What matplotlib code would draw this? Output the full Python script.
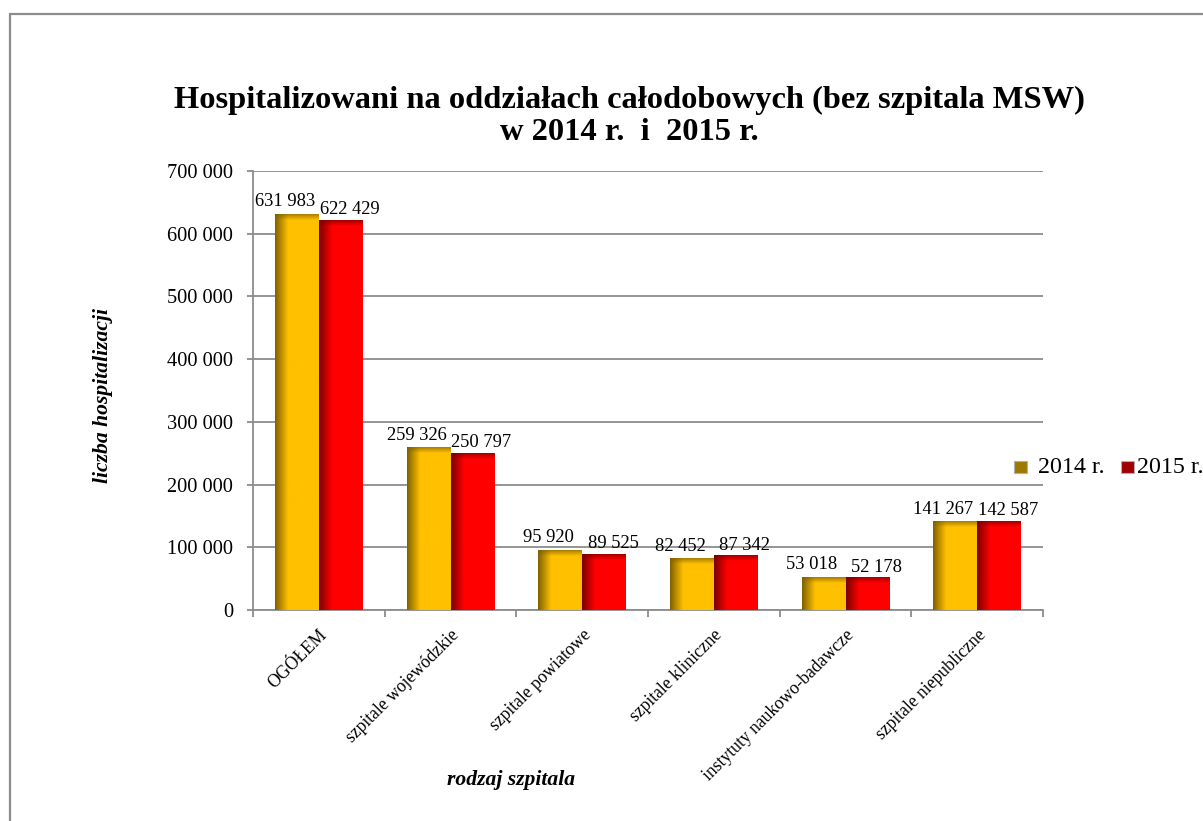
import matplotlib
matplotlib.use("Agg")
import matplotlib.pyplot as plt
import numpy as np
from matplotlib.patches import Rectangle
from matplotlib.colors import LinearSegmentedColormap, to_rgb

categories = ["OGÓŁEM", "szpitale wojewódzkie", "szpitale powiatowe", "szpitale kliniczne",
              "instytuty naukowo-badawcze", "szpitale niepubliczne"]
series_names = ["2014 r.", "2015 r."]
values_2014 = [631983, 259326, 95920, 82452, 53018, 141267]
values_2015 = [622429, 250797, 89525, 87342, 52178, 142587]
yticks = [0, 100000, 200000, 300000, 400000, 500000, 600000, 700000]

def fmt(v):
    return f"{v:,}".replace(",", " ")

plt.rcParams['font.family'] = ['Liberation Serif', 'DejaVu Serif']

W, H = 1203, 821
fig = plt.figure(figsize=(W / 100, H / 100), dpi=100)
fig.patch.set_facecolor('white')

# outer frame (extends beyond right/bottom)
fig.add_artist(Rectangle((10 / W, -0.2), 1.5, 1 - 14 / H + 0.2, transform=fig.transFigure,
                         fill=False, edgecolor='#8c8c8c', lw=1.6))

ax = fig.add_axes([253 / W, 1 - 610 / H, (1043 - 253) / W, (610 - 171) / H])

cols = [("#FFC000", "#7f6000"), ("#FF0000", "#7a0000")]
bw = 1 / 3
x = np.arange(len(categories)) + 0.5
px = 700000 / 439.0  # data units per pixel

def gradient_bar(ax, xl, h, main, dark):
    bar = ax.bar(xl, h, width=bw, align='edge', color=main, edgecolor='none', zorder=3)[0]
    cmap = LinearSegmentedColormap.from_list("g", [(0, dark), (0.3, main), (1, main)])
    grad = np.linspace(0, 1, 256).reshape(1, -1)
    im = ax.imshow(grad, cmap=cmap, extent=[xl, xl + bw, 0, h], aspect='auto', zorder=3.5,
                   interpolation='bilinear')
    im.set_clip_path(bar)
    # darker top strip
    d = 6 * px
    r, g, b = to_rgb(dark)
    top = np.zeros((32, 1, 4))
    top[..., 0], top[..., 1], top[..., 2] = r, g, b
    top[:, 0, 3] = np.linspace(0.7, 0.0, 32)
    im2 = ax.imshow(top, extent=[xl, xl + bw, h - d, h], aspect='auto', zorder=3.6,
                    interpolation='bilinear', origin='upper')
    im2.set_clip_path(bar)
    return bar

for i in range(len(categories)):
    gradient_bar(ax, x[i] - bw, values_2014[i], *cols[0])
    gradient_bar(ax, x[i], values_2015[i], *cols[1])
    ax.annotate(fmt(values_2014[i]), (x[i] - bw / 2, values_2014[i]), xytext=(-12, 12),
                textcoords='offset pixels', ha='center', va='center', fontsize=13.3, zorder=5)
    ax.annotate(fmt(values_2015[i]), (x[i] + bw / 2, values_2015[i]), xytext=(9, 10),
                textcoords='offset pixels', ha='center', va='center', fontsize=13.3, zorder=5)

ax.set_xlim(0, len(categories))
ax.set_ylim(0, 700000)
ax.set_yticks(yticks)
ax.set_yticklabels([fmt(v) for v in yticks], fontsize=14.7)
ax.yaxis.grid(True, color='#8c8c8c', lw=1.3, zorder=0)
ax.set_axisbelow(True)
ax.set_xticks(np.arange(len(categories) + 1))
ax.set_xticklabels([])
ax.set_xticks(x, minor=True)
ax.set_xticklabels(categories, minor=True, rotation=45, ha='right', va='top', fontsize=12.7,
                   rotation_mode='anchor')
ax.tick_params(axis='x', which='minor', length=0, pad=12)
ax.tick_params(axis='x', which='major', length=5, color='#8c8c8c', width=1.3)
ax.tick_params(axis='y', length=4.3, color='#8c8c8c', width=1.3, pad=10)
for s in ['top', 'right']:
    ax.spines[s].set_visible(False)
for s in ['left', 'bottom']:
    ax.spines[s].set_color('#8c8c8c')
    ax.spines[s].set_linewidth(1.3)

fig.text(629 / W, 1 - 116.5 / H, "Hospitalizowani na oddziałach całodobowych (bez szpitala MSW)\nw 2014 r.  i  2015 r.",
         ha='center', va='center', fontsize=23.4, fontweight='bold', linespacing=1.12)
fig.text(103 / W, 1 - 395 / H, "liczba hospitalizacji", rotation=90, ha='center', va='center',
         fontsize=15.6, fontweight='bold', style='italic')
fig.text(511 / W, 1 - 780 / H, "rodzaj szpitala", ha='center', va='center',
         fontsize=15.6, fontweight='bold', style='italic')

# legend (drawn in figure pixels)
leg_sq = [(1014, "#9c7a00"), (1121, "#a00000")]
leg_tx = [1038, 1137]
for (sx, c), tx, name in zip(leg_sq, leg_tx, series_names):
    fig.add_artist(Rectangle((sx / W, 1 - 473 / H), 13 / W, 12 / H, transform=fig.transFigure,
                             facecolor=c, edgecolor='#b0b0b0', lw=0.8))
    fig.text(tx / W, 1 - 467 / H, name, ha='left', va='center', fontsize=17.3)

fig.savefig("out.png", dpi=100, facecolor='white')
